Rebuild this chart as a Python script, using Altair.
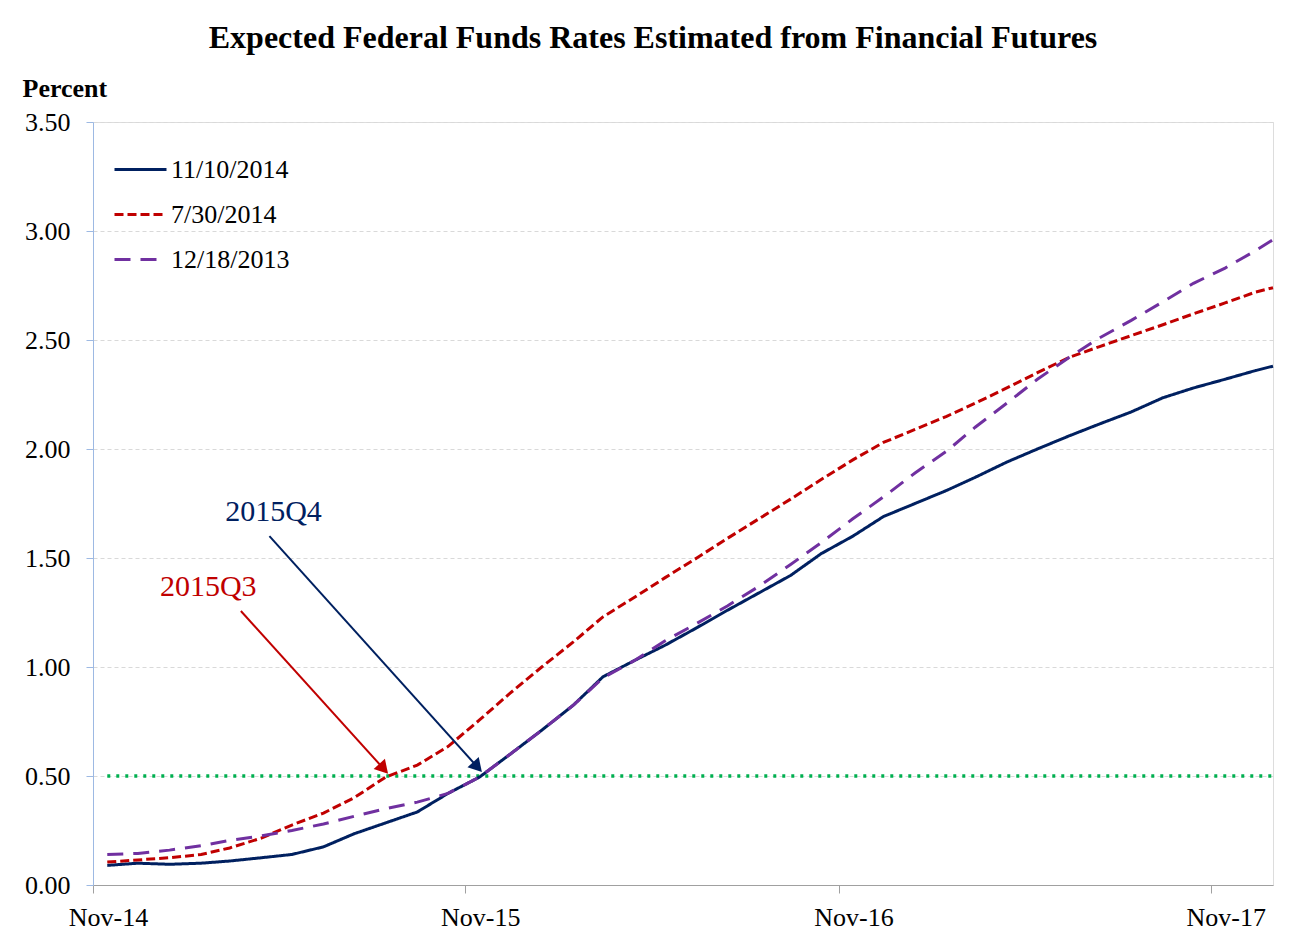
import altair as alt
import pandas as pd

title_text = "Expected Federal Funds Rates Estimated from Financial Futures"
series_names = ["11/10/2014", "7/30/2014", "12/18/2013"]
series_colors = ["#002060", "#C00000", "#7030A0"]
series_dashes = [[1, 0], [9, 4], [16, 10]]

# monthly observation dates (mid-month) Nov-2014 .. Dec-2017, plus end of horizon
dates = []
for yr in range(2014, 2018):
    for mo in range(1, 13):
        if (yr == 2014 and mo < 11):
            continue
        dates.append(f"{yr}-{mo:02d}-15T00:00:00")
dates.append("2018-01-01T00:00:00")

v_20141110 = [0.09, 0.10, 0.095, 0.10, 0.11, 0.125, 0.14, 0.175, 0.235, 0.285,
              0.335, 0.42, 0.495, 0.60, 0.71, 0.825, 0.955, 1.03, 1.10, 1.18,
              1.26, 1.34, 1.42, 1.52, 1.60, 1.69, 1.75, 1.81, 1.87, 1.94,
              2.00, 2.06, 2.115, 2.17, 2.235, 2.28, 2.32, 2.36, 2.38]
v_20140730 = [0.105, 0.115, 0.125, 0.14, 0.17, 0.215, 0.275, 0.33, 0.40, 0.495,
              0.55, 0.635, 0.757, 0.88, 1.00, 1.115, 1.23, 1.32, 1.41, 1.50,
              1.59, 1.68, 1.77, 1.86, 1.95, 2.03, 2.09, 2.15, 2.21, 2.28,
              2.35, 2.42, 2.47, 2.52, 2.57, 2.62, 2.67, 2.72, 2.74]
v_20131218 = [0.14, 0.145, 0.16, 0.18, 0.205, 0.225, 0.25, 0.28, 0.315, 0.35,
              0.38, 0.42, 0.495, 0.60, 0.71, 0.825, 0.95, 1.03, 1.12, 1.20,
              1.28, 1.37, 1.47, 1.57, 1.68, 1.78, 1.89, 1.99, 2.10, 2.21,
              2.32, 2.42, 2.51, 2.59, 2.675, 2.76, 2.83, 2.91, 2.96]

threshold = 0.5

# annotations: label, text position, arrow tail, arrow head, color, head angle
ann_labels = ["2015Q4", "2015Q3"]
ann_text_date = ["2015-04-27T00:00:00", "2015-02-22T00:00:00"]
ann_text_y = [1.711, 1.367]
ann_tail_date = ["2015-04-23T00:00:00", "2015-03-26T00:00:00"]
ann_tail_y = [1.60, 1.257]
ann_head_date = ["2015-11-13T00:00:00", "2015-08-13T00:00:00"]
ann_head_y = [0.541, 0.533]
ann_colors = ["#002060", "#C00000"]
ann_angles = [138, 138]

rows = []
for name, vals in zip(series_names, [v_20141110, v_20140730, v_20131218]):
    for d, v in zip(dates, vals):
        rows.append({"date": d, "value": v, "series": name})
df = pd.DataFrame(rows)

ann = pd.DataFrame({
    "label": ann_labels, "tdate": ann_text_date, "ty": ann_text_y,
    "x1": ann_tail_date, "y1": ann_tail_y, "x2": ann_head_date, "y2": ann_head_y,
    "color": ann_colors, "angle": ann_angles,
})
thr = pd.DataFrame({"d1": [dates[0]], "d2": [dates[-1]], "y": [threshold]})

SERIF = "Liberation Serif"

x_scale = alt.Scale(domain=[alt.DateTime(year=2014, month=11, date=1),
                            alt.DateTime(year=2018, month=1, date=1)])
y_scale = alt.Scale(domain=[0, 3.5])

x_axis = alt.Axis(
    values=[alt.DateTime(year=y, month=11, date=1) for y in (2014, 2015, 2016, 2017)],
    format="%b-%y", labelFont=SERIF, labelFontSize=26, labelColor="black",
    tickSize=8, tickColor="#A0A0A0", domainColor="#A0A0A0", grid=False,
    title=None, labelPadding=11, labelOffset=15, labelFlush=False,
)
y_axis = alt.Axis(
    values=[0, 0.5, 1, 1.5, 2, 2.5, 3, 3.5], format=".2f",
    labelFont=SERIF, labelFontSize=26, labelColor="black", labelPadding=16,
    tickSize=7, tickColor="#9DB9E3", domainColor="#9DB9E3",
    grid=True, gridDash=[4, 3], gridColor="#D9D9D9",
    title="Percent", titleAngle=0, titleX=-71, titleY=-26, titleAlign="left",
    titleBaseline="alphabetic", titleFont=SERIF, titleFontSize=26,
    titleFontWeight="bold", titleColor="black",
)

legend = alt.Legend(
    title=None, orient="none", legendX=20, legendY=20, padding=0,
    symbolType="stroke", symbolSize=2704, symbolStrokeWidth=3,
    labelFont=SERIF, labelFontSize=26, labelColor="black", labelOffset=3,
    rowPadding=4,
)

lines = alt.Chart(df).mark_line(strokeWidth=3).encode(
    x=alt.X("date:T", scale=x_scale, axis=x_axis),
    y=alt.Y("value:Q", scale=y_scale, axis=y_axis),
    color=alt.Color("series:N", sort=series_names,
                    scale=alt.Scale(domain=series_names, range=series_colors),
                    legend=legend),
    strokeDash=alt.StrokeDash("series:N", sort=series_names,
                              scale=alt.Scale(domain=series_names, range=series_dashes),
                              legend=legend),
)

green = alt.Chart(thr).mark_rule(color="#00B050", strokeWidth=3.5,
                                 strokeDash=[3, 6]).encode(
    x="d1:T", x2="d2:T", y="y:Q",
)

arrows = alt.Chart(ann).mark_rule(strokeWidth=2).encode(
    x="x1:T", x2="x2:T", y="y1:Q", y2="y2:Q",
    color=alt.Color("color:N", scale=None),
)
heads = alt.Chart(ann).mark_point(shape="triangle-up", filled=True, size=230,
                                  opacity=1).encode(
    x="x2:T", y="y2:Q",
    color=alt.Color("color:N", scale=None),
    angle=alt.Angle("angle:Q", scale=None),
)
texts = alt.Chart(ann).mark_text(font=SERIF, fontSize=30, baseline="middle",
                                 align="center").encode(
    x="tdate:T", y="ty:Q", text="label:N",
    color=alt.Color("color:N", scale=None),
)

chart = alt.layer(green, lines, arrows, heads, texts).properties(
    width=1180, height=763,
    title=alt.TitleParams(title_text, font=SERIF, fontSize=32, fontWeight="bold",
                          color="black", anchor="middle", frame="group",
                          offset=-5, dx=-30, baseline="alphabetic"),
    autosize=alt.AutoSizeParams(type="none"),
    padding={"left": 85, "top": 114, "right": 20, "bottom": 55},
).configure_view(stroke=None, strokeWidth=0).configure(background="white")

chart.save("out.html", embed_options={"renderer": "svg", "actions": False})
